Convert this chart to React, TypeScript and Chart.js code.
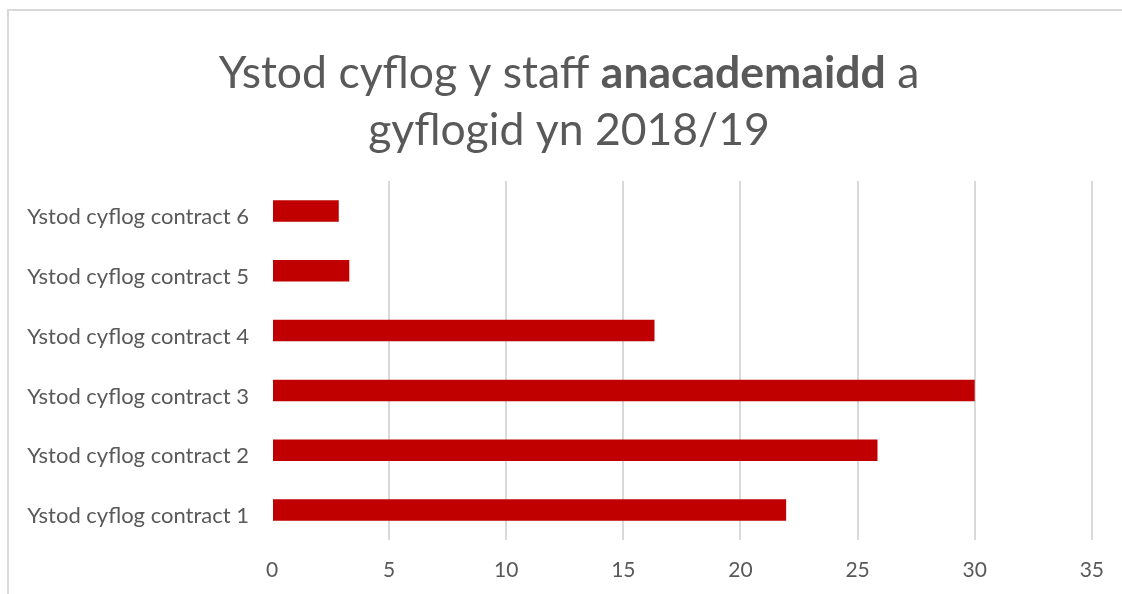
import React, { useEffect, useRef } from "react";
import { Chart, registerables } from "chart.js";

Chart.register(...registerables);

const categories = [
  "Ystod cyflog contract 1",
  "Ystod cyflog contract 2",
  "Ystod cyflog contract 3",
  "Ystod cyflog contract 4",
  "Ystod cyflog contract 5",
  "Ystod cyflog contract 6",
];
const values = [21.95, 25.85, 30, 16.33, 3.3, 2.85];
const titleLine1 = [
  { text: "Ystod cyflog y staff ", bold: false },
  { text: "anacademaidd", bold: true },
  { text: " a", bold: false },
];
const titleLine2 = "gyflogid yn 2018/19";

const FONT = "Lato, 'Open Sans', sans-serif";
const TEXT = "#595959";
const GRID = "#d9d9d9";
const BAR = "#C00000";

const titlePlugin = {
  id: "mixedTitle",
  afterDraw(chart: any) {
    const ctx = chart.ctx;
    ctx.save();
    ctx.fillStyle = TEXT;
    ctx.textBaseline = "alphabetic";
    ctx.textAlign = "left";
    const size = 44.5;
    const fontOf = (b: boolean) => `${b ? "bold " : ""}${size}px ${FONT}`;
    let total = 0;
    const widths = titleLine1.map((s) => {
      ctx.font = fontOf(s.bold);
      const w = ctx.measureText(s.text).width;
      total += w;
      return w;
    });
    const cx = 569;
    let x = cx - total / 2;
    titleLine1.forEach((s, i) => {
      ctx.font = fontOf(s.bold);
      ctx.fillText(s.text, x, 88);
      x += widths[i];
    });
    ctx.font = fontOf(false);
    ctx.textAlign = "center";
    ctx.fillText(titleLine2, cx, 145);
    ctx.restore();
  },
};

export default function App() {
  const ref = useRef<HTMLCanvasElement | null>(null);
  useEffect(() => {
    document.body.style.margin = "0";
    const chart = new Chart(ref.current as HTMLCanvasElement, {
      type: "bar",
      data: {
        labels: categories,
        datasets: [
          {
            data: values,
            backgroundColor: BAR,
            borderWidth: 0,
            categoryPercentage: 1,
            barPercentage: 0.36,
          },
        ],
      },
      options: {
        indexAxis: "y",
        animation: false,
        responsive: false,
        layout: { padding: { top: 181, left: 0, right: 29, bottom: 0 } },
        plugins: { legend: { display: false }, title: { display: false }, tooltip: { enabled: false } },
        scales: {
          x: {
            min: 0,
            max: 35,
            ticks: { stepSize: 5, color: TEXT, font: { family: FONT, size: 21 }, padding: 18 },
            grid: {
              color: (c: any) => (c.tick && c.tick.value === 0 ? "rgba(0,0,0,0)" : GRID),
              lineWidth: 2,
              drawTicks: false,
            },
            border: { display: false },
            afterFit: (s: any) => {
              s.height = 54;
            },
          },
          y: {
            reverse: true,
            ticks: { color: TEXT, font: { family: FONT, size: 22 }, padding: 23, labelOffset: 6 },
            grid: { display: false, drawTicks: false },
            border: { display: false },
            afterFit: (s: any) => {
              s.width = 272;
            },
          },
        },
      },
      plugins: [titlePlugin],
    });
    return () => chart.destroy();
  }, []);
  return (
    <div style={{ position: "relative", width: 1122, height: 594, overflow: "hidden", background: "#fff" }}>
      <div
        style={{
          position: "absolute",
          left: 7,
          top: 9,
          width: 2000,
          height: 2000,
          borderLeft: "2px solid #d9d9d9",
          borderTop: "2px solid #d9d9d9",
        }}
      />
      <canvas ref={ref} width={1122} height={594} style={{ position: "absolute", left: 0, top: 0 }} />
    </div>
  );
}
